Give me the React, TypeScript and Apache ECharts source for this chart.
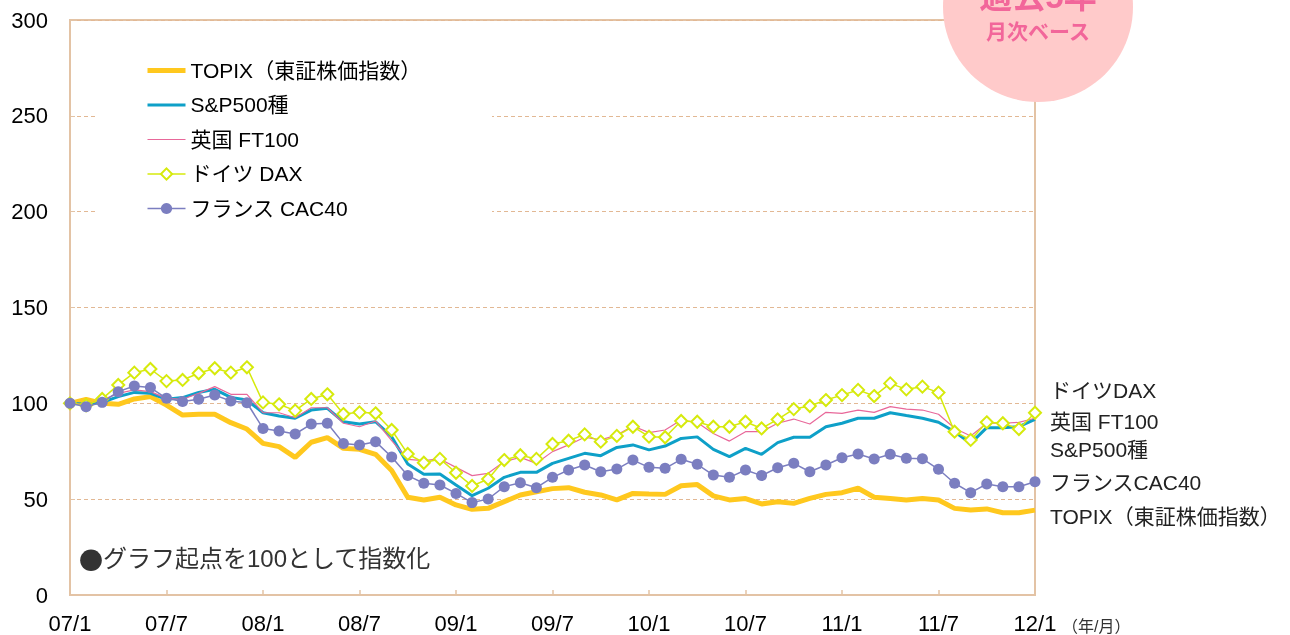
import React, { useEffect, useRef } from "react";
import * as echarts from "echarts";

const months: string[] = [];
for (let y = 7; y <= 12; y++) {
  for (let m = 1; m <= 12; m++) {
    if (y === 12 && m > 1) break;
    months.push(String(y).padStart(2, "0") + "/" + m);
  }
}

const yTicks = [0, 50, 100, 150, 200, 250, 300];

const seriesNames = ["TOPIX（東証株価指数）", "S&P500種", "英国 FT100", "ドイツ DAX", "フランス CAC40"];
const rightLabels = ["ドイツDAX", "英国 FT100", "S&P500種", "フランスCAC40", "TOPIX（東証株価指数）"];

const topix = [100, 102.1, 100, 99.5, 102.3, 103.5, 99.1, 93.9, 94.3, 94.3, 89.9, 86.6, 79.1, 77.4, 71.8, 79.7, 82.1, 76.5, 76.0, 73.4, 65, 51.0, 49.6, 51.0, 47.0, 44.7, 45.2, 48.7, 52.2, 53.9, 55.5, 56.0, 53.6, 52.2, 49.6, 53.0, 52.7, 52.5, 57.0, 57.6, 51.7, 49.6, 50.3, 47.5, 48.7, 47.8, 50.4, 52.5, 53.4, 55.7, 51.0, 50.3, 49.6, 50.3, 49.6, 45.2, 44.3, 44.9, 42.9, 42.9, 44.3];
const sp500 = [100, 99.5, 100.5, 103.5, 105.7, 105.2, 102.1, 103.0, 105.7, 107.3, 103.1, 101.7, 95.1, 93.4, 92.2, 96.5, 97.4, 90.4, 89.2, 90.4, 82.6, 68.3, 63.0, 63.1, 57.4, 51.8, 55.7, 61.4, 64.0, 64.0, 68.7, 71.3, 73.9, 72.7, 77.0, 78.3, 75.7, 77.7, 81.7, 82.5, 76.0, 72.2, 76.5, 73.4, 79.5, 82.3, 82.3, 87.8, 89.6, 92.2, 92.2, 95.1, 93.6, 92.2, 90.1, 85.2, 79.1, 87.3, 87.3, 87.8, 91.6];
const ft100 = [100, 99.5, 101.7, 105.2, 107.0, 106.1, 102.6, 102.1, 105.2, 108.7, 104.7, 104.7, 95.1, 95.1, 92.5, 97.7, 97.7, 89.6, 87.8, 90.8, 80.5, 70.8, 70.1, 71.0, 66.6, 62.3, 63.5, 69.6, 71.8, 68.7, 74.8, 78.3, 82.3, 80.9, 83.5, 88.2, 84.7, 86.1, 91.3, 90.0, 84.3, 80.3, 85.2, 85.2, 89.6, 91.8, 89.2, 95.3, 94.8, 96.5, 95.3, 98.3, 97.0, 96.5, 94.3, 87.0, 83.0, 89.6, 89.6, 90.1, 92.2];
const dax = [100, 99, 102.3, 109.6, 116.0, 117.9, 111.6, 112.2, 115.7, 118.3, 116.0, 118.8, 100.5, 99.5, 96.2, 102.3, 104.7, 94.4, 95.3, 94.8, 86.1, 73.6, 69.0, 71.0, 63.8, 56.9, 60.5, 70.4, 72.9, 71.0, 78.8, 80.5, 83.8, 80.0, 83.0, 87.8, 82.6, 82.3, 90.8, 90.4, 87.8, 87.8, 90.4, 86.9, 91.6, 97.0, 98.6, 101.7, 104.3, 107.0, 103.8, 110.4, 107.3, 108.7, 105.6, 85.2, 80.9, 90.1, 89.6, 86.6, 95.1];
const cac40 = [100, 98.2, 100.5, 106.1, 109.0, 108.2, 102.6, 100.9, 102.1, 104.3, 101.2, 100.3, 86.9, 85.6, 84.0, 89.2, 89.6, 79.1, 78.3, 80.0, 72.0, 62.3, 58.3, 57.4, 53.0, 48.2, 50.1, 56.5, 58.6, 56.0, 61.4, 65.2, 67.8, 64.3, 65.7, 70.4, 66.6, 66.1, 70.8, 68.2, 62.6, 61.4, 65.2, 62.3, 66.4, 68.7, 64.3, 67.8, 71.6, 73.6, 71.0, 73.4, 71.3, 71.1, 65.6, 58.3, 53.4, 57.9, 56.5, 56.5, 59.1];

const FONT = "'Liberation Sans', 'Noto Sans CJK JP', sans-serif";
const TAN = "#e3c3a5";
const C_TOPIX = "#ffc81e";
const C_SP = "#0ea0c8";
const C_FT = "#e8689a";
const C_DAX = "#d6ea0c";
const C_CAC = "#7b7ec0";

export default function App() {
  const ref = useRef<HTMLDivElement>(null);
  useEffect(() => {
    if (!ref.current) return;
    const chart = echarts.init(ref.current, undefined, { renderer: "svg" });
    const rightYs = [390, 421, 449, 482, 516];
    chart.setOption({
      animation: false,
      textStyle: { fontFamily: FONT },
      grid: {
        left: 70,
        right: 255,
        top: 20,
        bottom: 40,
        show: true,
        borderColor: TAN,
        borderWidth: 2,
        backgroundColor: "transparent",
      },
      legend: {
        orient: "vertical",
        left: 145,
        top: 60,
        padding: 0,
        itemWidth: 38,
        itemHeight: 14,
        itemGap: 13.5,
        textStyle: { fontSize: 21, lineHeight: 20, color: "#000", fontFamily: FONT },
        data: [
          { name: seriesNames[0], itemStyle: { opacity: 0 }, lineStyle: { width: 5, color: C_TOPIX } },
          { name: seriesNames[1], itemStyle: { opacity: 0 }, lineStyle: { width: 3, color: C_SP } },
          { name: seriesNames[2], itemStyle: { opacity: 0 }, lineStyle: { width: 1.2, color: C_FT } },
          { name: seriesNames[3], lineStyle: { width: 1.5, color: C_DAX } },
          { name: seriesNames[4], lineStyle: { width: 1.5, color: C_CAC } },
        ],
        z: 5,
      },
      xAxis: {
        type: "category",
        data: months,
        boundaryGap: false,
        axisLine: { lineStyle: { color: TAN, width: 2 } },
        axisTick: { interval: 5, inside: true, length: 5, lineStyle: { color: TAN, width: 1.5 } },
        axisLabel: { interval: 5, fontSize: 22, color: "#000", margin: 17, fontFamily: FONT },
        splitLine: { show: false },
      },
      yAxis: {
        type: "value",
        min: yTicks[0],
        max: yTicks[yTicks.length - 1],
        interval: 50,
        axisLine: { show: true, lineStyle: { color: TAN, width: 2 } },
        axisTick: { show: true, inside: true, length: 5, lineStyle: { color: TAN } },
        axisLabel: { fontSize: 22, color: "#000", margin: 22, fontFamily: FONT },
        splitLine: { show: true, lineStyle: { color: "#e2b894", type: [4, 3], width: 1 } },
      },
      series: [
        { name: seriesNames[0], type: "line", data: topix, symbol: "none", lineStyle: { color: C_TOPIX, width: 5 }, itemStyle: { color: C_TOPIX }, z: 2 },
        { name: seriesNames[1], type: "line", data: sp500, symbol: "none", lineStyle: { color: C_SP, width: 3 }, itemStyle: { color: C_SP }, z: 3 },
        { name: seriesNames[2], type: "line", data: ft100, symbol: "none", lineStyle: { color: C_FT, width: 1.2 }, itemStyle: { color: C_FT }, z: 4 },
        { name: seriesNames[3], type: "line", data: dax, symbol: "emptyDiamond", symbolSize: 12, showAllSymbol: true, lineStyle: { color: C_DAX, width: 1.5 }, itemStyle: { color: C_DAX, borderWidth: 1.5 }, z: 5 },
        { name: seriesNames[4], type: "line", data: cac40, symbol: "circle", symbolSize: 11, showAllSymbol: true, lineStyle: { color: C_CAC, width: 1.5 }, itemStyle: { color: C_CAC }, z: 6 },
      ],
      graphic: [
        { type: "rect", z: 1, shape: { x: 98, y: 40, width: 394, height: 185 }, style: { fill: "#fff" } },
        { type: "circle", z: 10, shape: { cx: 1038, cy: 7, r: 95 }, style: { fill: "#ffcaca" } },
        { type: "text", z: 11, x: 1038, y: -4, style: { text: "過去5年", fontSize: 33, fontWeight: "bold", fill: "#f2669a", align: "center", verticalAlign: "middle", fontFamily: FONT } },
        { type: "text", z: 11, x: 1038, y: 31, style: { text: "月次ベース", fontSize: 21, fontWeight: "bold", fill: "#f2669a", align: "center", verticalAlign: "middle", fontFamily: FONT } },
        ...rightLabels.map((t, i) => ({
          type: "text", z: 11, x: 1050, y: rightYs[i],
          style: { text: t, fontSize: 21, fill: "#222", verticalAlign: "middle", fontFamily: FONT },
        })),
        {
          type: "text", z: 11, x: 79, y: 558,
          style: {
            text: "{d|●}グラフ起点を100として指数化",
            fontSize: 24, fill: "#333", verticalAlign: "middle", fontFamily: FONT,
            rich: { d: { fontSize: 24, fontFamily: "'Noto Sans CJK JP'", fill: "#333" } },
          },
        },
        { type: "text", z: 11, x: 1062, y: 626, style: { text: "（年/月）", fontSize: 16, fill: "#333", verticalAlign: "middle", fontFamily: FONT } },
      ],
    });
    return () => chart.dispose();
  }, []);
  return <div ref={ref} style={{ position: "fixed", left: 0, top: 0, width: 1290, height: 635 }} />;
}
